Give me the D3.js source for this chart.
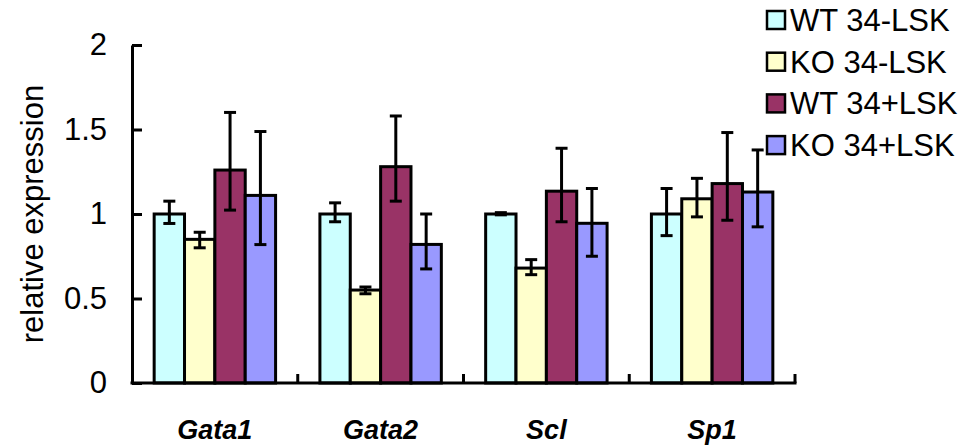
<!DOCTYPE html>
<html lang="en">
<head>
    <meta charset="UTF-8">
    <script src="https://d3js.org/d3.v7.min.js"></script>
    <style>
        body { margin: 0; background: #fff; }
        text { font-family: Arial, "Liberation Sans", sans-serif; fill: #000; }
    </style>
    <title>relative expression</title>
</head>
<body>
    <script type="text/javascript">
    // genes on the x axis and the four cell groups
    const genes = ["Gata1", "Gata2", "Scl", "Sp1"];
    const series = ["WT 34-LSK", "KO 34-LSK", "WT 34+LSK", "KO 34+LSK"];
    const colors = ["#ccffff", "#ffffcc", "#993366", "#9999ff"];

    // bar heights
    const wtMinus = [1.00, 1.00, 1.00, 1.00];
    const koMinus = [0.85, 0.55, 0.68, 1.09];
    const wtPlus  = [1.26, 1.28, 1.135, 1.18];
    const koPlus  = [1.11, 0.82, 0.945, 1.13];

    // error bar ends (top / bottom whisker)
    const wtMinusHi = [1.076, 1.066, 1.008, 1.151];
    const wtMinusLo = [0.944, 0.954, 0.995, 0.872];
    const koMinusHi = [0.892, 0.568, 0.730, 1.211];
    const koMinusLo = [0.800, 0.528, 0.641, 0.983];
    const wtPlusHi  = [1.601, 1.580, 1.389, 1.482];
    const wtPlusLo  = [1.023, 1.076, 0.954, 0.963];
    const koPlusHi  = [1.488, 1.000, 1.151, 1.379];
    const koPlusLo  = [0.819, 0.675, 0.750, 0.924];

    const yTicks = [0, 0.5, 1, 1.5, 2];

    const values = [wtMinus, koMinus, wtPlus, koPlus];
    const highs = [wtMinusHi, koMinusHi, wtPlusHi, koPlusHi];
    const lows = [wtMinusLo, koMinusLo, wtPlusLo, koPlusLo];

    const w = 972;
    const h = 447;
    const mLeft = 132, mRight = 795, mTop = 45, mBottom = 383;

    // one row per bar
    const rows = [];
    genes.forEach(function(g, i) {
        series.forEach(function(s, j) {
            rows.push({ gene: g, series: s, v: values[j][i], hi: highs[j][i], lo: lows[j][i], c: colors[j] });
        });
    });

    const x0 = d3.scaleBand(genes, [mLeft, mRight]).padding(0);
    const x1 = d3.scaleBand(series, [0, x0.bandwidth()]).paddingInner(0).paddingOuter(0.73);
    const y = d3.scaleLinear([0, 2], [mBottom, mTop]);

    const svg = d3.select("body")
        .append("svg")
        .attr("width", w)
        .attr("height", h);

    // bars
    svg.selectAll("rect.bar")
        .data(rows)
        .enter()
        .append("rect")
        .attr("class", "bar")
        .attr("x", function(d) { return x0(d.gene) + x1(d.series); })
        .attr("y", function(d) { return y(d.v); })
        .attr("width", x1.bandwidth())
        .attr("height", function(d) { return y(0) - y(d.v); })
        .attr("fill", function(d) { return d.c; })
        .attr("stroke", "#000")
        .attr("stroke-width", 3);

    // error bars
    const cap = 6;
    const err = svg.selectAll("g.err")
        .data(rows)
        .enter()
        .append("g")
        .attr("class", "err")
        .attr("stroke", "#000")
        .attr("stroke-width", 3)
        .attr("transform", function(d) { return "translate(" + (x0(d.gene) + x1(d.series) + x1.bandwidth() / 2) + ",0)"; });
    err.append("line")
        .attr("y1", function(d) { return y(d.hi); })
        .attr("y2", function(d) { return y(d.lo); });
    err.append("line")
        .attr("x1", -cap).attr("x2", cap)
        .attr("y1", function(d) { return y(d.hi); })
        .attr("y2", function(d) { return y(d.hi); });
    err.append("line")
        .attr("x1", -cap).attr("x2", cap)
        .attr("y1", function(d) { return y(d.lo); })
        .attr("y2", function(d) { return y(d.lo); });

    // y axis, ticks point inwards
    const yAxis = d3.axisLeft(y)
        .tickValues(yTicks)
        .tickFormat(d3.format("~g"))
        .tickSizeInner(-10)
        .tickSizeOuter(0)
        .tickPadding(25);
    const ya = svg.append("g")
        .attr("transform", "translate(" + mLeft + ",0)")
        .call(yAxis);
    ya.selectAll("path, line").attr("stroke", "#000").attr("stroke-width", 3);
    ya.selectAll("text")
        .attr("font-size", 31)
        .attr("font-family", "Arial, 'Liberation Sans', sans-serif")
        .attr("fill", "#000");

    // x axis line with group separators
    svg.append("line")
        .attr("x1", mLeft - 1.5).attr("x2", mRight + 1.5)
        .attr("y1", mBottom).attr("y2", mBottom)
        .attr("stroke", "#000").attr("stroke-width", 3);
    svg.selectAll("line.sep")
        .data(genes.slice(1).map(function(g) { return x0(g); }).concat([mRight]))
        .enter()
        .append("line")
        .attr("class", "sep")
        .attr("x1", function(d) { return d; }).attr("x2", function(d) { return d; })
        .attr("y1", mBottom).attr("y2", mBottom - 9)
        .attr("stroke", "#000").attr("stroke-width", 3);

    svg.selectAll("text.gene")
        .data(genes)
        .enter()
        .append("text")
        .attr("class", "gene")
        .text(function(d) { return d; })
        .attr("x", function(d) { return x0(d) + x0.bandwidth() / 2; })
        .attr("y", 439)
        .attr("text-anchor", "middle")
        .attr("font-size", 27)
        .attr("font-weight", "bold")
        .attr("font-style", "italic");

    svg.append("text")
        .text("relative expression")
        .attr("transform", "translate(43," + ((mTop + mBottom) / 2) + ") rotate(-90)")
        .attr("text-anchor", "middle")
        .attr("font-size", 31);

    // legend
    const leg = svg.selectAll("g.leg")
        .data(series)
        .enter()
        .append("g")
        .attr("class", "leg")
        .attr("transform", function(d, i) { return "translate(767," + (31 + i * 41.7) + ")"; });
    leg.append("rect")
        .attr("x", 0).attr("y", -20)
        .attr("width", 18).attr("height", 18)
        .attr("fill", function(d, i) { return colors[i]; })
        .attr("stroke", "#000").attr("stroke-width", 2.5);
    leg.append("text")
        .text(function(d) { return d; })
        .attr("x", 23)
        .attr("y", 0)
        .attr("font-size", 31);
    </script>
</body>
</html>
